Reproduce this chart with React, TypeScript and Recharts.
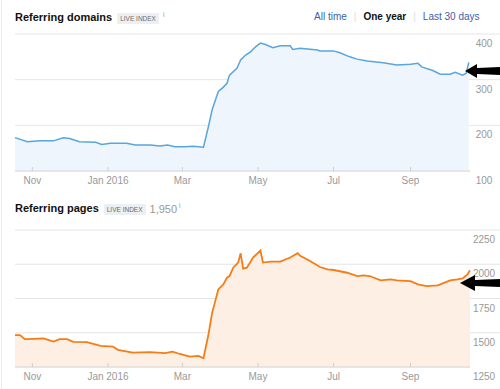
import React from 'react';
import { AreaChart, Area, XAxis, YAxis, CartesianGrid } from 'recharts';

// day offsets from 2015-10-18
const domainDays = [0, 10, 20, 31, 39, 44, 52, 65, 70, 77, 90, 97, 109, 117, 123, 129, 137, 144, 152, 156, 159, 164, 167, 171, 173, 179, 182, 186, 190, 194, 198, 202, 208, 214, 222, 224, 230, 244, 246, 257, 262, 270, 276, 284, 297, 308, 319, 325, 328, 337, 343, 351, 355, 361, 364, 366];
const domainValues = [173, 164, 166, 166, 173, 171, 164, 163, 158, 161, 161, 157, 157, 155, 157, 153, 153, 154, 152, 197, 234, 274, 281, 292, 310, 325, 343, 354, 361, 372, 380, 377, 370, 374, 374, 366, 369, 365, 363, 363, 359, 350, 345, 341, 337, 332, 334, 336, 328, 320, 312, 312, 316, 310, 314, 338];

const pageDays = [0, 4, 8, 15, 23, 31, 36, 42, 47, 58, 69, 79, 83, 95, 109, 121, 127, 133, 141, 148, 152, 156, 159, 164, 168, 171, 173, 176, 180, 182, 184, 187, 190, 192, 198, 200, 206, 214, 222, 228, 230, 238, 246, 252, 257, 268, 276, 281, 286, 295, 303, 308, 319, 325, 332, 341, 345, 351, 357, 361, 365, 367];
const pageValues = [1483, 1483, 1453, 1456, 1458, 1436, 1453, 1453, 1434, 1432, 1404, 1399, 1375, 1355, 1358, 1351, 1362, 1345, 1326, 1331, 1314, 1485, 1645, 1816, 1853, 1902, 1914, 1975, 2012, 2080, 1968, 1975, 2018, 2049, 2100, 2012, 2019, 2019, 2049, 2081, 2061, 2024, 1980, 1963, 1958, 1938, 1914, 1919, 1914, 1882, 1890, 1882, 1877, 1853, 1841, 1846, 1860, 1882, 1890, 1897, 1926, 1956];

const monthTicks = [14, 75, 135, 196, 257, 319];
const monthLabels = ['Nov', 'Jan 2016', 'Mar', 'May', 'Jul', 'Sep'];

const domainTicks = [100, 200, 300, 400];
const pageTicks = [1250, 1500, 1750, 2000, 2250];

const FONT = '"Liberation Sans", Arial, sans-serif';

const domainRows = domainDays.map((d, i) => ({ day: d, value: domainValues[i] }));
const pageRows = pageDays.map((d, i) => ({ day: d, value: pageValues[i] }));

const XTick = (props: any) => {
  const { x, y, payload } = props;
  const idx = monthTicks.indexOf(payload.value);
  return (
    <g>
      <line x1={x} x2={x} y1={y - 4} y2={y} stroke="#cfcfcf" />
      <text x={x} y={y + 13} textAnchor="middle" fontSize={10} fill="#999" fontFamily={FONT}>
        {monthLabels[idx]}
      </text>
    </g>
  );
};

const makeYTick = (bottom: number) => (props: any) => {
  const { y, payload } = props;
  return (
    <g>
      {payload.value !== bottom && <line x1={470} x2={500} y1={y} y2={y} stroke="#e6e6e6" />}
      <text x={484} y={y + 13} textAnchor="middle" fontSize={10} fill="#999" fontFamily={FONT}>
        {payload.value}
      </text>
    </g>
  );
};

function Panel({ rows, domain, ticks, stroke, fill, width }: any) {
  return (
    <AreaChart width={500} height={189} data={rows} margin={{ top: 34, right: 0, bottom: 0, left: 15 }}>
      <CartesianGrid vertical={false} stroke="#e6e6e6" />
      <XAxis
        dataKey="day"
        type="number"
        domain={[0, 367]}
        ticks={monthTicks}
        tick={<XTick />}
        tickSize={0}
        tickMargin={0}
        tickLine={false}
        axisLine={{ stroke: '#d8d8d8' }}
        height={18}
      />
      <YAxis
        orientation="right"
        domain={domain}
        ticks={ticks}
        tick={makeYTick(domain[0])}
        tickSize={0}
        tickMargin={0}
        tickLine={false}
        axisLine={false}
        width={30}
        allowDataOverflow
      />
      <Area
        type="linear"
        dataKey="value"
        stroke={stroke}
        strokeWidth={width}
        fill={fill}
        fillOpacity={1}
        dot={false}
        activeDot={false}
        isAnimationActive={false}
      />
    </AreaChart>
  );
}

const badge: React.CSSProperties = {
  display: 'inline-block',
  background: '#eceff3',
  color: '#6b6b6b',
  fontSize: 6.5,
  fontWeight: 'normal',
  padding: '2px 3px',
  marginLeft: 5,
  verticalAlign: 'middle',
  borderRadius: 1,
};

export default function App() {
  return (
    <div style={{ position: 'absolute', left: 0, top: 0, width: 500, height: 389, background: '#fff', fontFamily: FONT, overflow: 'hidden' }}>
      <div style={{ position: 'absolute', left: 1, top: 0, width: 1, height: 389, background: '#ececec' }} />
      <div style={{ position: 'absolute', left: 0, top: 0 }}>
        <Panel rows={domainRows} domain={[100, 400]} ticks={domainTicks} stroke="#5aa5dd" fill="#eef5fc" width={1.5} />
      </div>
      <div style={{ position: 'absolute', left: 0, top: 196 }}>
        <Panel rows={pageRows} domain={[1250, 2250]} ticks={pageTicks} stroke="#f57c16" fill="#fdefe4" width={1.8} />
      </div>

      <div style={{ position: 'absolute', left: 15, top: 11, fontSize: 11, fontWeight: 'bold', color: '#111', whiteSpace: 'nowrap' }}>
        Referring domains
        <span style={badge}>LIVE INDEX</span>
        <span style={{ fontSize: 7, color: '#999', marginLeft: 4, verticalAlign: 'top', fontWeight: 'normal' }}>i</span>
      </div>
      <div style={{ position: 'absolute', left: 314, top: 11, fontSize: 10, whiteSpace: 'nowrap', color: '#3b5ea8' }}>
        All time
        <span style={{ color: '#ddd', margin: '0 7px' }}>|</span>
        <span style={{ color: '#111', fontWeight: 'bold' }}>One year</span>
        <span style={{ color: '#ddd', margin: '0 7px' }}>|</span>
        Last 30 days
      </div>

      <div style={{ position: 'absolute', left: 15, top: 202, fontSize: 11, fontWeight: 'bold', color: '#111', whiteSpace: 'nowrap' }}>
        Referring pages
        <span style={badge}>LIVE INDEX</span>
        <span style={{ fontSize: 11, color: '#999', marginLeft: 4, fontWeight: 'normal', verticalAlign: 'middle' }}>1,950</span>
        <span style={{ fontSize: 7, color: '#999', marginLeft: 2, verticalAlign: 'top', fontWeight: 'normal' }}>i</span>
      </div>

      <svg width={500} height={389} style={{ position: 'absolute', left: 0, top: 0, pointerEvents: 'none' }}>
        <polygon points="465,71 477,64 477,68 500,67 500,75 477,74 477,78" fill="#000" />
        <polygon points="460,283 475,275 475,280 500,279 500,287 475,286 475,291" fill="#000" />
      </svg>
    </div>
  );
}
